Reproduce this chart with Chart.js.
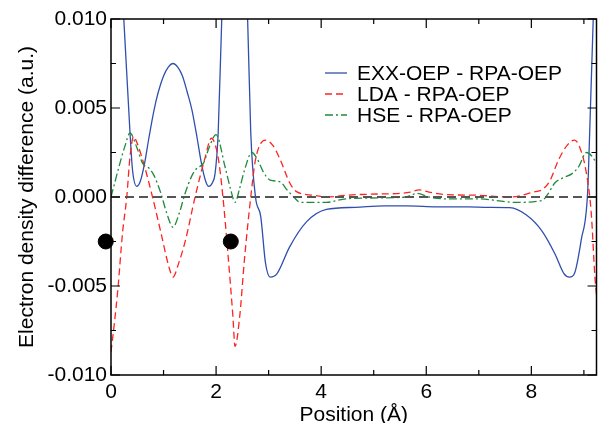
<!DOCTYPE html>
<html>
<head>
<meta charset="utf-8">
<script src="https://cdn.jsdelivr.net/npm/chart.js@4.4.1/dist/chart.umd.min.js"></script>
<style>
  html, body { margin: 0; padding: 0; background: #ffffff; }
  #wrap { width: 605px; height: 423px; }
</style>
</head>
<body>
<div id="wrap"><canvas id="c" width="605" height="423"></canvas></div>
<script>
// ---------- data ----------
const xTickLabels = [0, 2, 4, 6, 8];
const xMinorTicks = [1, 3, 5, 7, 9];
const yTickLabels = [-0.010, -0.005, 0.000, 0.005, 0.010];
const yMinorTicks = [-0.0075, -0.0025, 0.0025, 0.0075];

const seriesNames = ["EXX-OEP - RPA-OEP", "LDA - RPA-OEP", "HSE - RPA-OEP"];

const exxX = [0, 0.12, 0.24, 0.36, 0.41, 0.49, 0.56, 0.64, 0.72, 0.82, 0.90, 1.00, 1.09, 1.18, 1.27, 1.36, 1.45, 1.54, 1.64, 1.72, 1.80, 1.86, 1.93, 1.98, 2.04, 2.11, 2.2, 2.35, 2.5, 2.6, 2.66, 2.75, 2.85, 2.94, 3.03, 3.16, 3.4, 3.72, 4.1, 4.65, 5.2, 5.6, 6.2, 6.8, 7.2, 7.59, 7.9, 8.2, 8.45, 8.62, 8.73, 8.82, 8.95, 9.07, 9.11, 9.18, 9.24];
const exxY = [0.022, 0.016, 0.0102, 0.0037, 0.0015, 0.0006, 0.0009, 0.0019, 0.0033, 0.0049, 0.0059, 0.0068, 0.0073, 0.0075, 0.0073, 0.0068, 0.0059, 0.0049, 0.0033, 0.0019, 0.0009, 0.0006, 0.0008, 0.0013, 0.0036, 0.0102, 0.017, 0.022, 0.017, 0.0100, 0.0036, 0.0000, -0.0011, -0.0037, -0.0045, -0.0043, -0.0028, -0.0014, -0.0007, -0.00058, -0.0005, -0.0005, -0.00055, -0.00056, -0.00058, -0.0006, -0.0010, -0.0019, -0.0032, -0.0043, -0.0045, -0.0043, -0.0024, 0.0002, 0.0036, 0.0102, 0.015];

const ldaX = [0, 0.06, 0.13, 0.22, 0.30, 0.36, 0.43, 0.50, 0.64, 0.79, 0.95, 1.10, 1.18, 1.29, 1.42, 1.60, 1.79, 1.91, 2.04, 2.13, 2.22, 2.32, 2.36, 2.45, 2.54, 2.66, 2.75, 2.94, 3.08, 3.22, 3.40, 3.53, 3.85, 4.10, 4.47, 5.08, 5.50, 5.70, 5.87, 6.05, 6.25, 6.50, 6.96, 7.60, 8.07, 8.20, 8.35, 8.52, 8.68, 8.82, 8.92, 9.05, 9.14, 9.21, 9.24];
const ldaY = [-0.0087, -0.0072, -0.0052, -0.0020, 0.0000, 0.0022, 0.0034, 0.0030, 0.0017, 0.0000, -0.0020, -0.0039, -0.0045, -0.0037, -0.0024, 0.0000, 0.0022, 0.0033, 0.0022, 0.0000, -0.0030, -0.0067, -0.0084, -0.0067, -0.0035, 0.0000, 0.0021, 0.0032, 0.0029, 0.0021, 0.0008, 0.0003, 0.0001, 0.0000, 0.0001, 0.00017, 0.0002, 0.00028, 0.0004, 0.00028, 0.00017, 0.00012, 0.0001, 0.0000, 0.0003, 0.0004, 0.0009, 0.0021, 0.0029, 0.0032, 0.0028, 0.0013, -0.0009, -0.0045, -0.0055];

const hseX = [0, 0.08, 0.17, 0.27, 0.36, 0.49, 0.60, 0.73, 0.82, 0.95, 1.06, 1.18, 1.30, 1.41, 1.54, 1.63, 1.76, 1.87, 2.00, 2.17, 2.28, 2.36, 2.45, 2.54, 2.68, 2.79, 2.90, 3.03, 3.22, 3.35, 3.48, 3.60, 4.10, 4.47, 5.10, 5.60, 5.83, 6.05, 6.34, 6.96, 7.70, 8.20, 8.30, 8.45, 8.62, 8.77, 8.90, 9.05, 9.15, 9.24];
const hseY = [0.0000, 0.0009, 0.0019, 0.0029, 0.0036, 0.0028, 0.0019, 0.0016, 0.0012, 0.0002, -0.0009, -0.0017, -0.0009, 0.0002, 0.0012, 0.0016, 0.0019, 0.0028, 0.0035, 0.0017, 0.0004, -0.0003, 0.0005, 0.0015, 0.0025, 0.0021, 0.0014, 0.00095, 0.00085, 0.0004, 0.0000, -0.0003, -0.0003, -0.0001, -0.00005, 0.0000, 0.0002, 0.0000, -0.0001, -0.0001, -0.0003, -0.0002, 0.0001, 0.0008, 0.0011, 0.0013, 0.0017, 0.0025, 0.0023, 0.0019];

const zeroX = [0, 9.24];
const zeroY = [0, 0];

const dotX = [-0.10, 2.28];
const dotY = [-0.0025, -0.0025];

// ---------- helpers ----------
const pts = (xs, ys) => xs.map((x, i) => ({ x: x, y: ys[i] }));

const COL_EXX = '#2f4fae';
const COL_LDA = '#ff2222';
const COL_HSE = '#1e8a3a';
const FONT = '"Liberation Sans", Arial, Helvetica, sans-serif';

const styles = [
  { color: COL_EXX, dash: [] },
  { color: COL_LDA, dash: [7, 4] },
  { color: COL_HSE, dash: [8, 3, 2, 3] }
];

const framePlugin = {
  id: 'frame',
  afterDatasetsDraw(chart) {
    const { ctx, chartArea: a, scales } = chart;
    const xs = scales.x, ys = scales.y;
    ctx.save();
    ctx.strokeStyle = '#000';
    ctx.lineWidth = 1.5;
    ctx.setLineDash([]);
    ctx.strokeRect(a.left, a.top, a.right - a.left, a.bottom - a.top);
    ctx.lineWidth = 1.2;
    const major = 9, minor = 5;
    const xt = (v, len) => {
      const p = xs.getPixelForValue(v);
      ctx.beginPath();
      ctx.moveTo(p, a.bottom); ctx.lineTo(p, a.bottom - len);
      ctx.moveTo(p, a.top); ctx.lineTo(p, a.top + len);
      ctx.stroke();
    };
    const yt = (v, len) => {
      const p = ys.getPixelForValue(v);
      ctx.beginPath();
      ctx.moveTo(a.left, p); ctx.lineTo(a.left + len, p);
      ctx.moveTo(a.right, p); ctx.lineTo(a.right - len, p);
      ctx.stroke();
    };
    xTickLabels.forEach(v => xt(v, major));
    xMinorTicks.forEach(v => xt(v, minor));
    yTickLabels.forEach(v => yt(v, major));
    yMinorTicks.forEach(v => yt(v, minor));
    ctx.restore();
  }
};

const legendPlugin = {
  id: 'customLegend',
  afterDraw(chart) {
    const { ctx } = chart;
    ctx.save();
    const x0 = 325, x1 = 347, tx = 357;
    const ys = [73, 94, 115];
    ctx.font = '21px ' + FONT;
    ctx.textBaseline = 'middle';
    ctx.textAlign = 'left';
    seriesNames.forEach((name, i) => {
      ctx.strokeStyle = styles[i].color;
      ctx.lineWidth = 1.3;
      ctx.setLineDash(styles[i].dash);
      ctx.beginPath();
      ctx.moveTo(x0, ys[i]); ctx.lineTo(x1, ys[i]);
      ctx.stroke();
      ctx.setLineDash([]);
      ctx.fillStyle = '#000';
      ctx.fillText(name, tx, ys[i] + 1);
    });
    ctx.restore();
  }
};

const lineDs = (label, data, i) => ({
  label: label,
  data: data,
  borderColor: styles[i].color,
  borderWidth: 1.3,
  borderDash: styles[i].dash,
  pointRadius: 0,
  fill: false,
  cubicInterpolationMode: 'monotone',
  order: 3 - i
});

new Chart(document.getElementById('c'), {
  type: 'scatter',
  data: {
    datasets: [
      { label: 'zero', data: pts(zeroX, zeroY), showLine: true, borderColor: '#555555', borderWidth: 2, borderDash: [9, 5], pointRadius: 0, order: 0 },
      lineDs(seriesNames[0], pts(exxX, exxY), 0),
      lineDs(seriesNames[1], pts(ldaX, ldaY), 1),
      lineDs(seriesNames[2], pts(hseX, hseY), 2),
      { label: 'atoms', data: pts(dotX, dotY), showLine: false, pointRadius: 7.5, pointHoverRadius: 7.5, backgroundColor: '#000', borderColor: '#000', clip: false, order: -1 }
    ].map(d => Object.assign({ showLine: true }, d))
  },
  options: {
    responsive: false,
    animation: false,
    events: [],
    layout: { padding: { top: 19, right: 0, left: 0, bottom: 0 } },
    plugins: { legend: { display: false }, tooltip: { enabled: false }, title: { display: false } },
    scales: {
      x: {
        type: 'linear',
        min: 0,
        max: 9.24,
        grid: { display: false, drawTicks: false },
        border: { display: false },
        afterBuildTicks: s => { s.ticks = xTickLabels.map(v => ({ value: v })); },
        afterFit: s => { s.height = 48; },
        ticks: { color: '#000', font: { family: FONT, size: 21 }, padding: 5, maxRotation: 0, autoSkip: false, callback: v => String(v) },
        title: { display: true, text: 'Position (Å)', color: '#000', font: { family: FONT, size: 21, lineHeight: 0.7 }, padding: { top: 0, bottom: 0 } }
      },
      y: {
        type: 'linear',
        min: -0.010,
        max: 0.010,
        grid: { display: false, drawTicks: false },
        border: { display: false },
        afterBuildTicks: s => { s.ticks = yTickLabels.map(v => ({ value: v })); },
        afterFit: s => { s.width = 111; },
        ticks: { color: '#000', font: { family: FONT, size: 21 }, padding: 4, autoSkip: false, callback: v => (Math.abs(v) < 1e-9 ? 0 : v).toFixed(3) },
        title: { display: true, text: 'Electron density difference (a.u.)', color: '#000', font: { family: FONT, size: 21 }, padding: { top: 15, bottom: 0 } }
      }
    }
  },
  plugins: [framePlugin, legendPlugin]
});
</script>
</body>
</html>
